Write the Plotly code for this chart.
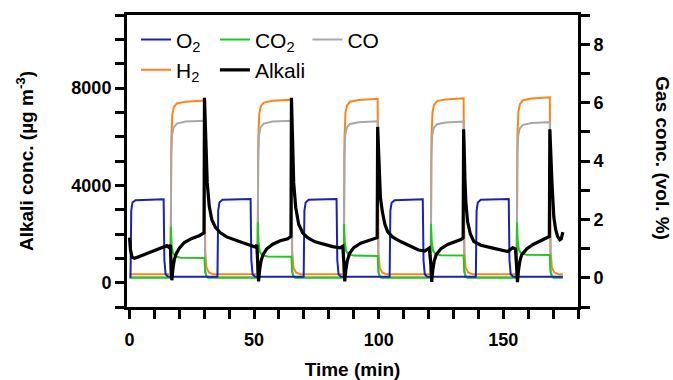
import plotly.graph_objects as go

# ---------------- data ----------------
# time in minutes, gas concentrations in vol. %, alkali in ug m^-3
O2_time = [0.0, 0.4, 0.7, 1.2, 2.4, 13.7, 14.0, 14.5, 15.5,
           35.3, 35.6, 36.1, 37.3, 48.6, 48.9, 49.4, 50.4,
           69.9, 70.2, 70.7, 71.9, 83.1, 83.4, 83.9, 84.9,
           104.4, 104.7, 105.2, 106.4, 117.7, 118.0, 118.5, 119.5,
           139.0, 139.3, 139.8, 141.0, 152.2, 152.5, 153.0, 154.0,
           173.9]
O2_vol = [0.04, 0.04, 2.30, 2.58, 2.66, 2.69, 0.60, 0.12, 0.04,
          0.04, 2.30, 2.58, 2.67, 2.70, 0.60, 0.12, 0.04,
          0.04, 2.30, 2.58, 2.67, 2.70, 0.60, 0.12, 0.04,
          0.04, 2.30, 2.57, 2.66, 2.69, 0.60, 0.12, 0.04,
          0.04, 2.30, 2.58, 2.67, 2.70, 0.60, 0.12, 0.04,
          0.04]

H2_time = [0.0, 16.5, 16.8, 17.2, 17.8, 19.0, 22.5, 30.1, 30.4, 30.9, 31.9, 33.6,
           51.4, 51.7, 52.1, 52.7, 53.9, 57.4, 65.0, 65.3, 65.8, 66.8, 68.5,
           86.0, 86.3, 86.7, 87.3, 88.5, 92.0, 99.6, 99.9, 100.4, 101.4, 103.1,
           120.9, 121.2, 121.6, 122.2, 123.4, 126.9, 134.1, 134.4, 134.9, 135.9, 137.6,
           155.4, 155.7, 156.1, 156.7, 157.9, 161.4, 168.7, 169.0, 169.5, 170.5, 172.2,
           173.9]
H2_vol = [0.12, 0.12, 4.80, 5.60, 5.85, 5.97, 6.03, 6.07, 0.90, 0.35, 0.18, 0.12,
          0.12, 4.80, 5.62, 5.88, 6.00, 6.06, 6.10, 0.90, 0.35, 0.18, 0.12,
          0.12, 4.85, 5.65, 5.90, 6.03, 6.09, 6.13, 0.90, 0.35, 0.18, 0.12,
          0.12, 4.85, 5.66, 5.92, 6.05, 6.11, 6.15, 0.90, 0.35, 0.18, 0.12,
          0.12, 4.90, 5.70, 5.95, 6.08, 6.14, 6.18, 0.90, 0.35, 0.18, 0.12,
          0.12]

CO_time = [0.0, 16.5, 16.75, 17.1, 17.7, 19.0, 22.5, 30.1, 30.35, 30.9, 31.6,
           51.4, 51.65, 52.0, 52.6, 53.9, 57.4, 65.0, 65.25, 65.8, 66.5,
           86.0, 86.25, 86.6, 87.2, 88.5, 92.0, 99.6, 99.85, 100.4, 101.1,
           120.9, 121.15, 121.5, 122.1, 123.4, 126.9, 134.1, 134.35, 134.9, 135.6,
           155.4, 155.65, 156.0, 156.6, 157.9, 161.4, 168.7, 168.95, 169.5, 170.2,
           173.9]
CO_vol = [0.02, 0.02, 4.20, 4.90, 5.15, 5.28, 5.35, 5.38, 0.30, 0.05, 0.02,
          0.02, 4.20, 4.90, 5.15, 5.28, 5.35, 5.38, 0.30, 0.05, 0.02,
          0.02, 4.20, 4.90, 5.14, 5.27, 5.33, 5.36, 0.30, 0.05, 0.02,
          0.02, 4.20, 4.88, 5.13, 5.26, 5.32, 5.35, 0.30, 0.05, 0.02,
          0.02, 4.18, 4.86, 5.11, 5.24, 5.30, 5.33, 0.30, 0.05, 0.02,
          0.02]

CO2_time = [0.0, 16.5, 16.6, 16.9, 17.4, 18.3, 20.5, 30.1, 30.35, 30.9, 31.6,
            51.4, 51.5, 51.8, 52.3, 53.2, 55.4, 65.0, 65.25, 65.8, 66.5,
            86.0, 86.1, 86.4, 86.9, 87.8, 90.0, 99.6, 99.85, 100.4, 101.1,
            120.9, 121.0, 121.3, 121.8, 122.7, 124.9, 134.1, 134.35, 134.9, 135.6,
            155.4, 155.5, 155.8, 156.3, 157.2, 159.4, 168.7, 168.95, 169.5, 170.2,
            173.9]
CO2_vol = [0.0, 0.0, 1.76, 1.15, 0.86, 0.74, 0.69, 0.68, 0.20, 0.04, 0.0,
           0.0, 1.90, 1.20, 0.90, 0.78, 0.73, 0.72, 0.20, 0.04, 0.0,
           0.0, 1.83, 1.22, 0.92, 0.81, 0.76, 0.75, 0.20, 0.04, 0.0,
           0.0, 1.85, 1.24, 0.93, 0.82, 0.77, 0.76, 0.20, 0.04, 0.0,
           0.0, 1.90, 1.26, 0.95, 0.84, 0.79, 0.78, 0.20, 0.04, 0.0,
           0.0]

Alkali_time = [0.0, 0.4, 1.0, 2.0, 4.0, 7.0, 10.0, 13.0, 15.0, 15.8, 16.4,
               16.7, 17.0, 17.4, 18.0, 18.8, 20.0, 22.0, 25.0, 28.0, 29.9,
               30.1, 30.3, 30.6, 31.2, 32.0, 33.0, 34.5, 36.5, 39.0, 42.0, 45.5, 49.0, 50.6, 51.1,
               51.5, 51.8, 52.2, 52.8, 53.6, 55.0, 57.5, 60.5, 63.5, 64.8,
               65.0, 65.2, 65.5, 65.9, 66.7, 67.9, 69.5, 71.5, 74.5, 78.0, 81.5, 84.5, 85.6,
               86.1, 86.4, 86.8, 87.4, 88.3, 90.0, 92.8, 96.8, 99.4,
               99.6, 99.8, 100.1, 100.7, 101.5, 102.5, 103.6, 105.5, 108.8, 112.5, 116.0, 118.5, 120.3,
               121.0, 121.3, 121.7, 122.3, 123.1, 125.0, 127.7, 130.5, 133.0, 133.9,
               134.1, 134.3, 134.6, 135.0, 135.7, 136.8, 138.2, 141.0, 145.0, 148.5, 151.8, 153.8, 154.9,
               155.4, 155.7, 156.1, 156.7, 157.4, 159.5, 162.0, 165.0, 168.0, 168.5,
               168.7, 168.9, 169.2, 169.6, 170.3, 171.0, 171.8, 172.7, 173.3, 173.9]
Alkali_conc = [1850, 1350, 1050, 1000, 1080, 1200, 1330, 1430, 1520, 1450, 1560,
               700, 100, 550, 950, 1200, 1420, 1650, 1820, 1930, 2050,
               7600, 6800, 5400, 4100, 3150, 2600, 2270, 2050, 1880, 1760, 1640, 1520, 1460, 1560,
               700, 50, 500, 900, 1150, 1380, 1580, 1720, 1800, 1900,
               7600, 6800, 5400, 4100, 3100, 2400, 2050, 1850, 1680, 1570, 1480, 1430, 1500,
               700, 50, 500, 900, 1200, 1440, 1620, 1770, 1850,
               6400, 5800, 4400, 3500, 2900, 2400, 2100, 1880, 1690, 1500, 1340, 1300, 1420,
               700, 30, 500, 900, 1150, 1400, 1570, 1680, 1770, 1850,
               6300, 5600, 4300, 3300, 2500, 2000, 1690, 1540, 1440, 1350, 1280, 1440, 1380,
               600, 20, 500, 900, 1150, 1400, 1570, 1720, 1850, 1900,
               6300, 5700, 4800, 4000, 2700, 2200, 1900, 1760, 1800, 2080]

# ---------------- styling ----------------
FONT = "Liberation Sans, Arial, sans-serif"
C_O2, C_CO2, C_CO, C_H2, C_ALK = "#1a22b4", "#22c822", "#a8a8a8", "#ff8418", "#000000"

fig = go.Figure()
gas_w = 2.0
# gas traces on right axis ('y'); alkali on left axis ('y2', drawn on top)
fig.add_trace(go.Scatter(x=H2_time, y=H2_vol, mode="lines", name="H<sub>2</sub>",
                         line=dict(color=C_H2, width=gas_w), yaxis="y",
                         legend="legend", legendrank=2))
fig.add_trace(go.Scatter(x=CO_time, y=CO_vol, mode="lines", name="CO",
                         line=dict(color=C_CO, width=gas_w), yaxis="y",
                         legend="legend3", legendrank=1))
fig.add_trace(go.Scatter(x=CO2_time, y=CO2_vol, mode="lines", name="CO<sub>2</sub>",
                         line=dict(color=C_CO2, width=gas_w), yaxis="y",
                         legend="legend2", legendrank=1))
fig.add_trace(go.Scatter(x=O2_time, y=O2_vol, mode="lines", name="O<sub>2</sub>",
                         line=dict(color=C_O2, width=gas_w), yaxis="y",
                         legend="legend", legendrank=1))
fig.add_trace(go.Scatter(x=Alkali_time, y=Alkali_conc, mode="lines", name="Alkali",
                         line=dict(color=C_ALK, width=3.2), yaxis="y2",
                         legend="legend2", legendrank=2))

tickfont = dict(family=FONT, size=18, color="black", weight="bold")
titlefont = dict(family=FONT, size=19, color="black", weight="bold")
axis_common = dict(showline=True, linewidth=3, linecolor="black", showgrid=False,
                   zeroline=False, ticks="outside", ticklen=9, tickwidth=3,
                   tickcolor="black", tickfont=tickfont, automargin=False,
                   tickformat="d")

legfont = dict(family=FONT, size=21, color="black")
leg_common = dict(orientation="v", font=legfont, bgcolor="rgba(0,0,0,0)",
                  xanchor="left", yanchor="top", tracegroupgap=0,
                  traceorder="normal", itemwidth=30)

fig.update_layout(
    width=673, height=380,
    margin=dict(l=127, r=95, t=15, b=73),
    paper_bgcolor="white", plot_bgcolor="white",
    showlegend=True,
    xaxis=dict(range=[-1, 180], tick0=0, dtick=50, mirror=True, ticklabelstandoff=5,
               minor=dict(dtick=10, tick0=0, ticks="outside", ticklen=9, tickwidth=3,
                          tickcolor="black"),
               title=dict(text="Time (min)", font=titlefont, standoff=15),
               **axis_common),
    yaxis=dict(range=[-1, 9], side="right", tick0=0, dtick=2,
               minor=dict(dtick=1, tick0=0, ticks="outside", ticklen=9, tickwidth=3,
                          tickcolor="black"),
               **axis_common),
    yaxis2=dict(range=[-1000, 11000], side="left", overlaying="y", tick0=0, dtick=4000,
                minor=dict(dtick=1000, tick0=0, ticks="outside", ticklen=9, tickwidth=3,
                           tickcolor="black"),
                title=dict(text="Alkali conc. (µg m<sup>-3</sup>)", font=titlefont, standoff=33),
                **axis_common),
    legend=dict(x=0.02, y=0.985, **leg_common),
    legend2=dict(x=0.195, y=0.985, **leg_common),
    legend3=dict(x=0.40, y=0.985, **leg_common),
    annotations=[dict(text="Gas conc. (vol. %)", textangle=90, xref="paper", yref="paper",
                      x=1.188, y=0.51, xanchor="center", yanchor="middle",
                      showarrow=False, font=titlefont)],
)

fig.write_html("out.html")
